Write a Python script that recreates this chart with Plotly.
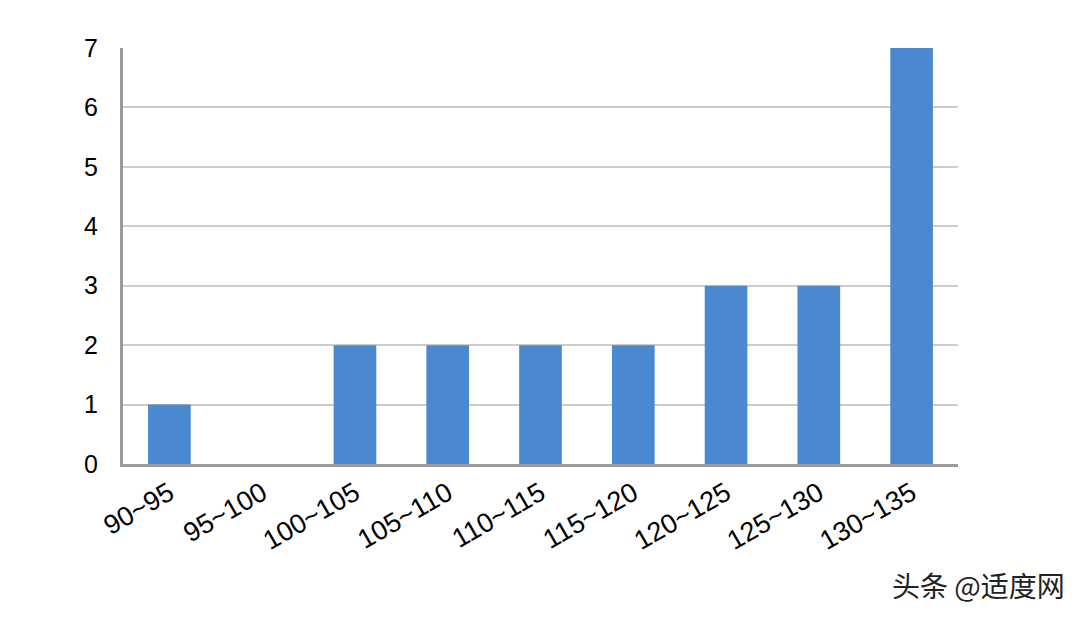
import plotly.graph_objects as go

categories = ["90~95", "95~100", "100~105", "105~110", "110~115", "115~120", "120~125", "125~130", "130~135"]
counts = [1, 0, 2, 2, 2, 2, 3, 3, 7]
y_ticks = [0, 1, 2, 3, 4, 5, 6, 7]

fig = go.Figure()
fig.add_trace(go.Bar(x=categories, y=counts, marker=dict(color="#4a89d0", line=dict(width=0))))

fig.update_layout(
    width=1080, height=618,
    margin=dict(l=123, r=122, t=48, b=154),
    plot_bgcolor="white", paper_bgcolor="white",
    bargap=0.54,
    showlegend=False,
    font=dict(family="Liberation Sans, Arial, sans-serif", color="#000"),
)
fig.update_xaxes(
    type="category", tickangle=-30, tickfont=dict(size=27),
    showline=True, linecolor="#9a9a9a", linewidth=3,
    showgrid=False, ticks="",
)
fig.update_yaxes(
    range=[0, 7], tickvals=y_ticks, tickfont=dict(size=25),
    showline=True, linecolor="#9a9a9a", linewidth=3,
    showgrid=True, gridcolor="#cccccc", gridwidth=2,
    zeroline=False, ticks="", ticklabelstandoff=17,
)
fig.add_annotation(
    text="头条 @适度网", xref="paper", yref="paper",
    x=1.0, y=0.0, xanchor="left", yanchor="top",
    showarrow=False, font=dict(family="Noto Sans CJK SC", size=28, color="#222"),
    xshift=-68, yshift=-99,
)
fig.write_html("out.html", config={"displayModeBar": False},
               post_script="document.body.style.margin='0';")
